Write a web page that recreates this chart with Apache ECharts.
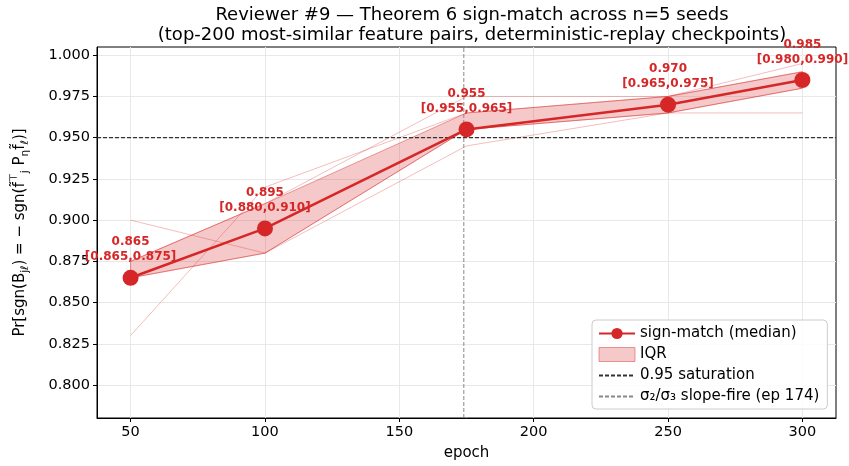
<!DOCTYPE html>
<html><head><meta charset="utf-8">
<script src="https://cdn.jsdelivr.net/npm/echarts@6/dist/echarts.min.js"></script>
<style>html,body{margin:0;padding:0;background:#fff}#c{width:849px;height:466px}</style>
</head><body><div id="c"></div>
<script>
const epochs = [50, 100, 175, 250, 300];
const median = [0.865, 0.895, 0.955, 0.970, 0.985];
const q25 = [0.865, 0.880, 0.955, 0.965, 0.980];
const q75 = [0.875, 0.910, 0.965, 0.975, 0.990];
const seed1 = [0.900, 0.880, 0.945, 0.965, 0.965];
const seed2 = [0.830, 0.920, 0.965, 0.975, 0.995];
const seed3 = [0.865, 0.895, 0.955, 0.970, 0.985];
const seed4 = [0.875, 0.910, 0.975, 0.975, 0.990];
const seed5 = [0.865, 0.880, 0.955, 0.965, 0.980];
const seeds = [seed1, seed2, seed3, seed4, seed5];
const xTicks = [50, 100, 150, 200, 250, 300];
const yTicks = [0.800, 0.825, 0.850, 0.875, 0.900, 0.925, 0.950, 0.975, 1.000];
const saturation = 0.95;
const slopeFireEpoch = 174;

const RED = '#d62728';
const FONT = 'DejaVu Sans';
const XMIN = 37.5, XMAX = 312.5, YMIN = 0.78, YMAX = 1.005;

const chart = echarts.init(document.getElementById('c'), null, {renderer: 'canvas'});
const series = [];
series.push({
  type: 'custom', name: 'IQR', z: 2, clip: true,
  renderItem: function (params, api) {
    if (params.dataIndex !== 0) return null;
    const pts = [];
    for (let i = 0; i < epochs.length; i++) pts.push(api.coord([epochs[i], q75[i]]));
    for (let i = epochs.length - 1; i >= 0; i--) pts.push(api.coord([epochs[i], q25[i]]));
    return {type: 'polygon', shape: {points: pts},
      style: {fill: 'rgba(214,39,40,0.25)', stroke: 'rgba(214,39,40,0.45)', lineWidth: 1}};
  },
  itemStyle: {color: 'rgba(214,39,40,0.25)'},
  data: [[epochs[0], q25[0]]]
});
seeds.forEach(function (s, k) {
  series.push({
    type: 'line', name: 'seed' + (k + 1), z: 3, silent: true, symbol: 'none',
    lineStyle: {color: 'rgba(214,39,40,0.3)', width: 1},
    data: epochs.map((e, i) => [e, s[i]])
  });
});
series.push({
  type: 'line', name: '0.95 saturation', z: 4, symbol: 'none',
  lineStyle: {color: '#333', width: 1.2, type: [4, 2]},
  itemStyle: {color: '#333'},
  data: [[XMIN, saturation], [XMAX, saturation]]
});
series.push({
  type: 'line', name: 'σ₂/σ₃ slope-fire (ep 174)', z: 4, symbol: 'none',
  lineStyle: {color: '#888', width: 1, type: [4, 2]},
  itemStyle: {color: '#888'},
  data: [[slopeFireEpoch, YMIN], [slopeFireEpoch, YMAX]]
});
series.push({
  type: 'line', name: 'sign-match (median)', z: 6,
  symbol: 'circle', symbolSize: 16,
  lineStyle: {color: RED, width: 2.6},
  itemStyle: {color: RED},
  label: {
    show: true, position: 'top', distance: 5,
    color: RED, fontFamily: FONT, fontWeight: 'bold', fontSize: 12, lineHeight: 15,
    formatter: function (p) {
      const i = p.dataIndex;
      return median[i].toFixed(3) + '\n[' + q25[i].toFixed(3) + ',' + q75[i].toFixed(3) + ']';
    }
  },
  data: epochs.map((e, i) => [e, median[i]])
});

chart.setOption({
  animation: false,
  backgroundColor: '#fff',
  textStyle: {fontFamily: FONT},
  title: {
    text: 'Reviewer #9 — Theorem 6 sign-match across n=5 seeds\n(top-200 most-similar feature pairs, deterministic-replay checkpoints)',
    left: 467, top: 0, textAlign: 'center',
    textStyle: {fontFamily: FONT, fontSize: 18, fontWeight: 'normal', color: '#000', lineHeight: 20}
  },
  grid: {left: 97, right: 13, top: 47, bottom: 48, show: true, borderColor: '#000', borderWidth: 1, backgroundColor: '#fff'},
  legend: {
    orient: 'vertical', left: 592, top: 320,
    padding: [6, 8, 5, 6], itemGap: 6, itemWidth: 36, itemHeight: 14,
    backgroundColor: 'rgba(255,255,255,0.85)', borderColor: '#ccc', borderWidth: 1, borderRadius: 4,
    textStyle: {fontFamily: FONT, fontSize: 15, color: '#000'},
    data: [
      {name: 'sign-match (median)'},
      {name: 'IQR', icon: 'rect', itemStyle: {color: 'rgba(214,39,40,0.25)', borderColor: 'rgba(214,39,40,0.45)', borderWidth: 1}},
      {name: '0.95 saturation', itemStyle: {opacity: 0}},
      {name: 'σ₂/σ₃ slope-fire (ep 174)', itemStyle: {opacity: 0}}
    ]
  },
  xAxis: {
    type: 'value', min: XMIN, max: XMAX,
    name: 'epoch', nameLocation: 'middle', nameGap: 28,
    nameTextStyle: {fontFamily: FONT, fontSize: 15, color: '#000'},
    axisLine: {show: true, lineStyle: {color: '#000', width: 1}},
    axisTick: {show: true, length: 4, lineStyle: {color: '#000'}, customValues: xTicks},
    axisLabel: {customValues: xTicks, color: '#000', fontSize: 14.5, fontFamily: FONT, margin: 7},
    splitLine: {show: true, lineStyle: {color: '#e8e8e8', width: 1}}
  },
  yAxis: {
    type: 'value', min: YMIN, max: YMAX,
    name: '{n|Pr[sgn(B}{s|jℓ}{n|) = − sgn(}{n|f̃}{p|⊤}{s|j}{n| P}{s|η}{n|f̃}{s|ℓ}{n|)]}',
    nameLocation: 'middle', nameGap: 66, nameRotate: 90,
    nameTextStyle: {
      fontFamily: FONT, fontSize: 15, color: '#000',
      rich: {
        n: {fontFamily: FONT, fontSize: 15, color: '#000', lineHeight: 22, verticalAlign: 'middle'},
        s: {fontFamily: FONT, fontSize: 10.5, color: '#000', lineHeight: 22, verticalAlign: 'bottom', padding: [7, 0, 0, 0]},
        p: {fontFamily: FONT, fontSize: 10.5, color: '#000', lineHeight: 22, verticalAlign: 'top', padding: [0, 0, 7, 0]}
      }
    },
    axisLine: {show: true, lineStyle: {color: '#000', width: 1}},
    axisTick: {show: true, length: 4, lineStyle: {color: '#000'}, customValues: yTicks},
    axisLabel: {customValues: yTicks, color: '#000', fontSize: 14.5, fontFamily: FONT, margin: 7,
      formatter: v => v.toFixed(3)},
    splitLine: {show: true, lineStyle: {color: '#e8e8e8', width: 1}}
  },
  series: series
});
</script></body></html>
